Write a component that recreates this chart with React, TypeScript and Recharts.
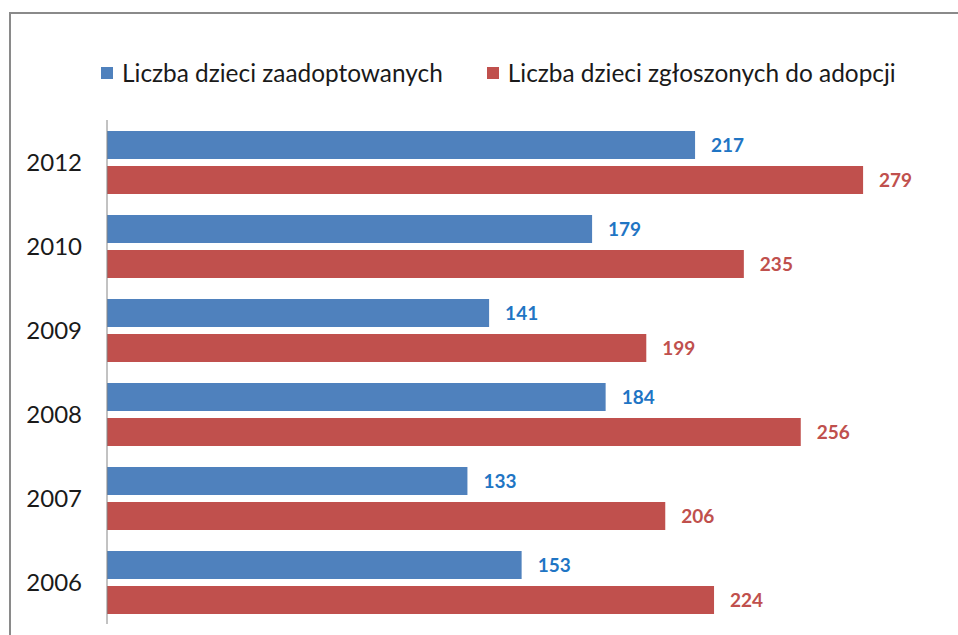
import React from 'react';
import { BarChart, Bar, XAxis, YAxis, Legend, LabelList } from 'recharts';

const years = ['2012', '2010', '2009', '2008', '2007', '2006'];
const adopted = [217, 179, 141, 184, 133, 153];
const reported = [279, 235, 199, 256, 206, 224];

const data = years.map((year, i) => ({
  year,
  adopted: adopted[i],
  reported: reported[i],
}));

const FONT = 'Lato, "Noto Sans", sans-serif';
const BLUE = '#4F81BD';
const RED = '#C0504D';

const legendItems = [
  { label: 'Liczba dzieci zaadoptowanych', color: BLUE },
  { label: 'Liczba dzieci zgłoszonych do adopcji', color: RED },
];

function LegendBox() {
  return (
    <div
      style={{
        display: 'flex',
        justifyContent: 'flex-start',
        paddingLeft: 101,
        gap: 44,
        fontFamily: FONT,
        fontSize: 24.4,
        color: '#1a1a1a',
      }}
    >
      {legendItems.map((it) => (
        <div key={it.label} style={{ display: 'flex', alignItems: 'center' }}>
          <span
            style={{
              width: 12,
              height: 12,
              background: it.color,
              marginRight: 9,
              display: 'inline-block',
            }}
          />
          {it.label}
        </div>
      ))}
    </div>
  );
}

export default function App() {
  React.useEffect(() => {
    // chart coords == page coords, and no scrollbars
    document.body.style.margin = '0';
    document.body.style.overflow = 'hidden';
  }, []);

  return (
    <div
      style={{
        position: 'relative',
        width: 958,
        height: 635,
        overflow: 'hidden',
        background: '#fff',
      }}
    >
      {/* frame of the original chart area, cut off on the right and bottom */}
      <div
        style={{
          position: 'absolute',
          left: 9,
          top: 12,
          width: 949,
          height: 623,
          borderTop: '2px solid #8a8a8a',
          borderLeft: '2px solid #8a8a8a',
        }}
      />
      <div style={{ position: 'absolute', left: 0, top: 0 }}>
        <BarChart
          width={958}
          height={635}
          data={data}
          layout="vertical"
          margin={{ top: 120, right: 38, bottom: 11, left: 0 }}
          barSize={28}
          barGap={7}
        >
          <XAxis type="number" domain={[0, 300]} hide />
          <YAxis
            type="category"
            dataKey="year"
            width={107}
            tickLine={false}
            tickSize={0}
            tickMargin={25}
            axisLine={{ stroke: '#868686' }}
            tick={{ fontSize: 24, fill: '#1a1a1a', fontFamily: FONT }}
          />
          <Legend
            verticalAlign="middle"
            align="center"
            wrapperStyle={{ top: 58, left: 0, width: 958 }}
            content={() => <LegendBox />}
          />
          <Bar dataKey="adopted" fill={BLUE} isAnimationActive={false}>
            <LabelList
              dataKey="adopted"
              position="right"
              offset={16}
              fill="#1F75C4"
              fontSize={19}
              fontWeight="bold"
              fontFamily={FONT}
            />
          </Bar>
          <Bar dataKey="reported" fill={RED} isAnimationActive={false}>
            <LabelList
              dataKey="reported"
              position="right"
              offset={16}
              fill={RED}
              fontSize={19}
              fontWeight="bold"
              fontFamily={FONT}
            />
          </Bar>
        </BarChart>
      </div>
    </div>
  );
}
